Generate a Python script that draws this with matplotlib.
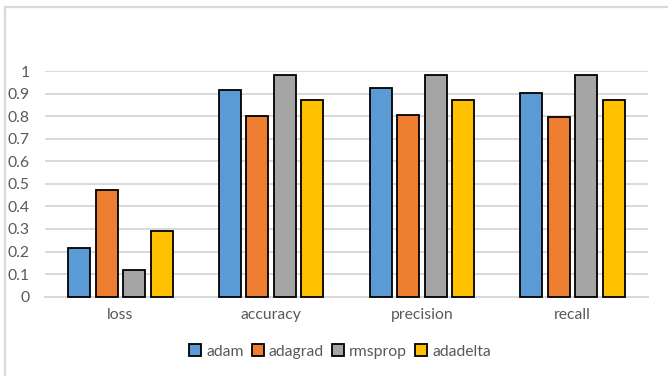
""" grouped bar chart of optimizer metrics """

import matplotlib.pyplot as plt
import numpy as np
from matplotlib.lines import Line2D

plt.rcParams['font.family'] = ['Lato', 'DejaVu Sans']

metrics = ['loss', 'accuracy', 'precision', 'recall']
optimizers = ['adam', 'adagrad', 'rmsprop', 'adadelta']
colors = ['#5b9bd5', '#ed7d31', '#a5a5a5', '#ffc000']

adam = [0.217, 0.916, 0.923, 0.904]
adagrad = [0.473, 0.800, 0.805, 0.796]
rmsprop = [0.118, 0.982, 0.982, 0.982]
adadelta = [0.292, 0.873, 0.873, 0.873]
series = [adam, adagrad, rmsprop, adadelta]

yticks = [0, 0.1, 0.2, 0.3, 0.4, 0.5, 0.6, 0.7, 0.8, 0.9, 1]
ytick_labels = ['0', '0.1', '0.2', '0.3', '0.4', '0.5', '0.6', '0.7', '0.8', '0.9', '1']

text_color = '#595959'
grid_color = '#d9d9d9'

fig = plt.figure(figsize=(6.68, 3.76), dpi=100)
ax = fig.add_axes([0.0674, 0.211, 0.9026, 0.600])

x = np.arange(len(metrics))
width = 0.146
step = 0.182
for i, (name, vals, col) in enumerate(zip(optimizers, series, colors)):
    offset = (i - 1.5) * step
    ax.bar(x + offset, vals, width, color=col, edgecolor='black',
           linewidth=1.3, label=name, zorder=3, clip_on=False)

ax.set_xlim(-0.5, len(metrics) - 0.5)
ax.set_ylim(0, 1)
ax.set_yticks(yticks)
ax.set_yticklabels(ytick_labels)
ax.set_xticks(x)
ax.set_xticklabels(metrics)
ax.tick_params(axis='both', length=0, labelsize=11.3, colors=text_color)
ax.tick_params(axis='y', pad=11)
ax.tick_params(axis='x', pad=8)
ax.grid(axis='y', color=grid_color, linewidth=1.4, zorder=0)
for side in ['top', 'right', 'left']:
    ax.spines[side].set_visible(False)
ax.spines['bottom'].set_color(grid_color)
ax.spines['bottom'].set_linewidth(1.4)

# legend with square swatches
handles = [Line2D([], [], marker='s', linestyle='none', markersize=8.5,
                  markerfacecolor=c, markeredgecolor='black',
                  markeredgewidth=1.3) for c in colors]
leg = fig.legend(handles, optimizers, loc='center', ncol=4,
                 bbox_to_anchor=(0.509, 0.064), frameon=False,
                 fontsize=11.3, handlelength=0.8, handletextpad=0.3,
                 columnspacing=0.5, labelcolor=text_color)

# chart border (top and left edges)
fig.add_artist(Line2D([0.008, 1.0], [0.981, 0.981], color=grid_color,
                      linewidth=1.6, transform=fig.transFigure))
fig.add_artist(Line2D([0.008, 0.008], [0.0, 0.981], color=grid_color,
                      linewidth=1.6, transform=fig.transFigure))

fig.savefig('out.png', dpi=100)
